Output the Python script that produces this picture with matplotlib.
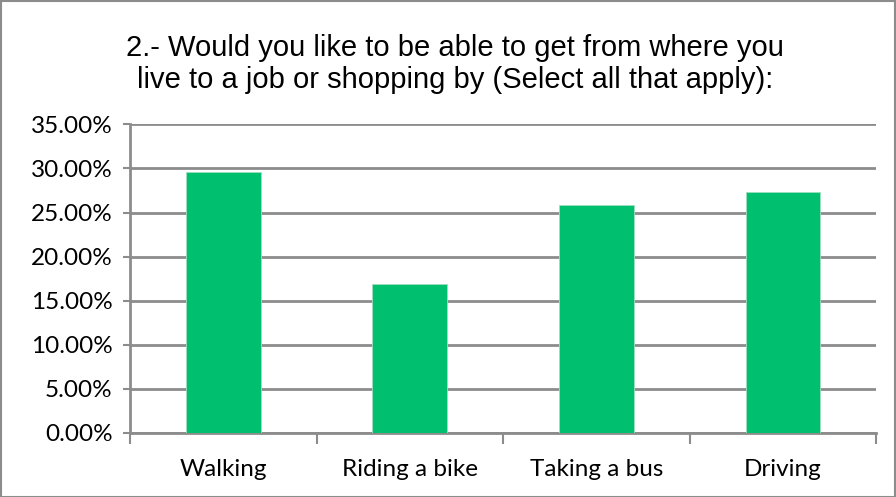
import matplotlib.pyplot as plt
from matplotlib.ticker import FuncFormatter, MultipleLocator, FixedLocator

# Data
categories = ['Walking', 'Riding a bike', 'Taking a bus', 'Driving']
shares = [29.65, 16.95, 25.8, 27.3]

title = ('2.- Would you like to be able to get from where you\n'
         'live to a job or shopping by (Select all that apply):')

fig = plt.figure(figsize=(8.96, 4.97), dpi=100)
ax = fig.add_axes([0.145, 0.1288, 0.833, 0.621])

x = range(len(categories))
ax.bar(x, shares, width=0.4, color='#00BF6F', edgecolor='#9fe0c0', linewidth=0.6, zorder=3)

ax.set_ylim(0, 35)
ax.set_xlim(-0.5, len(categories) - 0.5)
ax.yaxis.set_major_locator(MultipleLocator(5))
ax.yaxis.set_major_formatter(FuncFormatter(lambda v, p: f'{v:.2f}%'))
ax.grid(axis='y', color='#8c8c8c', linewidth=2, zorder=0)

ax.set_xticks(list(x))
ax.set_xticklabels(categories, fontsize=17.5, family='Lato')
ax.xaxis.set_minor_locator(FixedLocator([i - 0.5 for i in range(len(categories) + 1)]))
ax.tick_params(axis='x', which='major', length=0, pad=19)
ax.tick_params(axis='x', which='minor', length=8, width=1.5, color='#8c8c8c')
ax.tick_params(axis='y', length=5, width=1.5, color='#8c8c8c', labelsize=17.5, pad=7.5)
for lab in ax.get_yticklabels():
    lab.set_family('Lato')

for side in ['top', 'right']:
    ax.spines[side].set_visible(False)
for side in ['left', 'bottom']:
    ax.spines[side].set_color('#8c8c8c')
    ax.spines[side].set_linewidth(2)

fig.text(0.508, 0.871, title, ha='center', va='center', fontsize=21,
         family='Liberation Sans', linespacing=1.2)

# outer frame
fig.patches.append(plt.Rectangle((0.001, 0.001), 0.998, 0.997, transform=fig.transFigure,
                                 fill=False, edgecolor='#8c8c8c', linewidth=1.5))

fig.savefig('out.png', dpi=100)
